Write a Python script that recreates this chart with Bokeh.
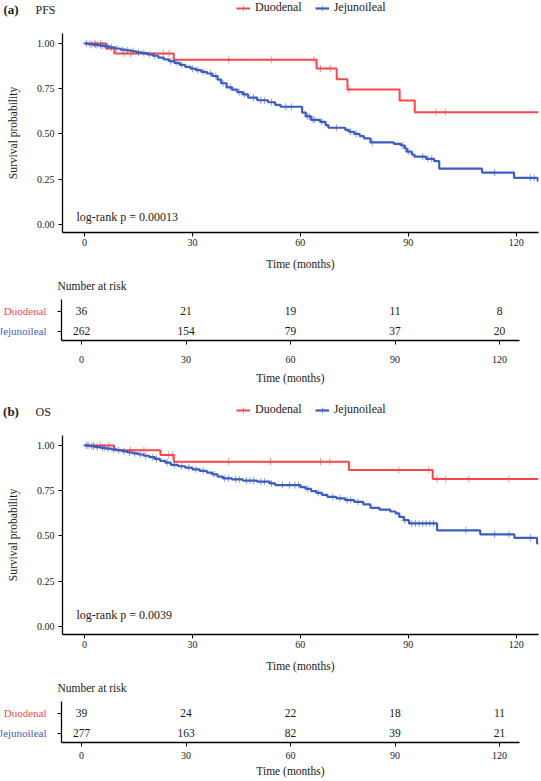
import numpy as np
from bokeh.plotting import figure
from bokeh.models import Range1d, FixedTicker, Label, Legend, LegendItem
from bokeh.layouts import column, row
from bokeh.embed import file_html
from bokeh.resources import INLINE
from bokeh.core.properties import value

FONT = "Liberation Serif"
RED = "#F8474C"
BLUE = "#3D5EBE"
INK = "#1a1a1a"
W = 541

groups = ["Duodenal", "Jejunoileal"]
group_colors = [RED, BLUE]
group_widths = [2, 2.2]
x_ticks = [0, 30, 60, 90, 120]
x_tick_labels = ["0", "30", "60", "90", "120"]
y_ticks = [0, 0.25, 0.5, 0.75, 1.0]
y_tick_labels = ["0.00", "0.25", "0.50", "0.75", "1.00"]
followup_end = 126.2

# ---------------- (a) PFS ----------------
pfs_duo_t = [6.0, 8.3, 24.8, 64.5, 70.1, 73.1, 87.6, 91.8]
pfs_duo_s = [0.972, 0.944, 0.910, 0.862, 0.802, 0.745, 0.684, 0.620]
pfs_duo_cens = [2.8, 4.5, 11.0, 12.8, 21.9, 23.5, 40.1, 51.9, 63.8, 65.6, 68.3, 73.5, 97.7, 100.3]

pfs_jej_t = [1, 2.5, 4, 5.5, 7, 8.5, 10, 11.5, 13, 14.5, 16, 17.5, 19, 20.5, 22, 23.5, 25, 26.5, 28, 29.5,
             31, 32.5, 34, 35.5, 37, 38, 39.5, 41, 42.5, 44, 45.5, 48, 51, 53, 54.5, 60.5, 61.5, 63, 65.5, 67,
             67.8, 72.5, 73.5, 75, 76.5, 77.7, 79.5, 86, 88, 89, 89.6, 91, 91.7, 95, 97.2, 98.6, 110.5, 119.4, 126.0]
pfs_jej_s = [0.996, 0.992, 0.988, 0.984, 0.978, 0.972, 0.966, 0.962, 0.957, 0.951, 0.946, 0.940, 0.932, 0.922,
             0.912, 0.902, 0.893, 0.882, 0.871, 0.861, 0.852, 0.843, 0.834, 0.820, 0.800, 0.780, 0.757, 0.745,
             0.731, 0.718, 0.700, 0.686, 0.675, 0.661, 0.650, 0.618, 0.597, 0.578, 0.567, 0.548, 0.534, 0.522,
             0.512, 0.500, 0.488, 0.475, 0.453, 0.445, 0.436, 0.420, 0.402, 0.386, 0.374, 0.362, 0.350, 0.308,
             0.286, 0.257, 0.240]
pfs_jej_cens = [0.5, 1.5, 2, 3, 3.5, 4.5, 5, 6, 6.5, 7.5, 9, 10.5, 12, 13.5, 15, 16.5, 18, 19.5, 24, 25.5, 27,
                30, 31.5, 33, 35, 36.5, 38.5, 40.5, 43, 44.5, 47, 49, 50, 52, 56, 57.5, 62, 62.5, 63.5, 64, 66,
                70, 74, 75.5, 80, 88.5, 90, 94, 95.5, 96.5, 114, 124, 125]
pfs_pval = "log-rank p = 0.00013"
pfs_risk_duo = [36, 21, 19, 11, 8]
pfs_risk_jej = [262, 154, 79, 37, 20]

# ---------------- (b) OS ----------------
os_duo_t = [8.2, 21.1, 24.8, 73.5, 96.8]
os_duo_s = [0.974, 0.947, 0.910, 0.864, 0.814]
os_duo_cens = [2.6, 4.4, 6.8, 12.8, 16.5, 23.4, 24.5, 40.1, 51.7, 65.6, 68.2, 87.4, 95.7, 98.0, 100.4, 106.8, 118.0]

os_jej_t = [1.5, 3, 4.5, 6, 7.5, 9, 10.5, 12, 13.5, 15, 16.5, 18, 19.5, 21, 22.5, 24, 26, 28, 30, 32,
            34, 35.5, 37, 38.5, 41, 44, 48, 51.5, 53, 60, 61.5, 63, 64.5, 66, 67.5, 70, 72.5, 75, 77.5, 79.5,
            82, 85, 86.5, 87.5, 88.8, 90.2, 98, 110, 119.5, 125.8]
os_jej_s = [0.996, 0.991, 0.987, 0.982, 0.978, 0.974, 0.967, 0.961, 0.956, 0.950, 0.943, 0.935, 0.926, 0.915,
            0.905, 0.893, 0.885, 0.877, 0.868, 0.860, 0.850, 0.840, 0.828, 0.818, 0.812, 0.806, 0.800, 0.790,
            0.781, 0.770, 0.760, 0.748, 0.738, 0.727, 0.716, 0.708, 0.698, 0.688, 0.674, 0.655, 0.645, 0.635,
            0.624, 0.605, 0.587, 0.569, 0.531, 0.509, 0.489, 0.458]
os_jej_cens = [0.5, 1, 2, 2.5, 3.5, 5, 5.5, 6.5, 8, 9.5, 11, 12.5, 14, 15.5, 17, 19, 20, 23, 25, 27, 29, 31, 33,
               36, 39, 40, 42, 43, 45, 46, 47, 49, 50, 52, 55, 57, 58.5, 59.5, 62, 65, 69, 71, 73, 74, 76, 89,
               91, 92, 93, 94, 95, 96, 97, 106, 114, 118, 124]
os_pval = "log-rank p = 0.0039"
os_risk_duo = [39, 24, 22, 18, 11]
os_risk_jej = [277, 163, 82, 39, 21]


def km_xy(t, s):
    return [0.0] + list(t) + [followup_end], [1.0] + list(s) + [s[-1]]


def cens_y(t, s, c):
    t = np.asarray(t, dtype=float)
    s = np.asarray(s, dtype=float)
    idx = np.searchsorted(t, np.asarray(c, dtype=float), side="right") - 1
    return np.where(idx >= 0, s[np.clip(idx, 0, None)], 1.0)


def draw_km(p, duo, jej, **kw):
    out = []
    for (t, s, c), col, lw in zip([duo, jej], group_colors, group_widths):
        xs, ys = km_xy(t, s)
        r1 = p.step(xs, ys, mode="after", line_color=col, line_width=lw, **kw)
        r2 = p.scatter(c, cens_y(t, s, c), marker="cross", size=7, line_color=col,
                       line_alpha=0.6, line_width=1, **kw)
        out.append([r1, r2])
    return out


def bare_fig(w, h, x_range, y_range, bottom=0):
    p = figure(width=w, height=h, output_backend="svg", toolbar_location=None,
               x_range=x_range, y_range=y_range, x_axis_type=None, y_axis_type=None,
               min_border_left=0, min_border_right=0, min_border_top=0, min_border_bottom=bottom)
    p.outline_line_color = None
    p.xgrid.visible = False
    p.ygrid.visible = False
    return p


def style_axis(ax, size="10px"):
    ax.axis_line_color = "black"
    ax.axis_line_width = 1.3
    ax.major_tick_line_color = "black"
    ax.major_tick_line_width = 1
    ax.major_tick_in = 0
    ax.major_tick_out = 4
    ax.minor_tick_line_color = None
    ax.major_label_text_font = FONT
    ax.major_label_text_font_size = size
    ax.major_label_text_color = INK
    ax.axis_label_text_font = FONT
    ax.axis_label_text_font_size = "11.5px"
    ax.axis_label_text_font_style = "normal"
    ax.axis_label_text_color = INK


def header_fig(tag, name, duo, jej):
    h = 20
    p = bare_fig(W, h, Range1d(0, W), Range1d(h, 0))
    # the curves are drawn on a range that lies off this strip; they only feed the legend swatches
    p.extra_y_ranges = {"off": Range1d(5, 6)}
    rends = draw_km(p, duo, jej, y_range_name="off")
    p.add_layout(Label(x=10.5, y=9, text=tag, text_font=FONT, text_font_size="13px",
                       text_font_style="bold", text_align="center", text_baseline="middle",
                       text_color=INK))
    p.add_layout(Label(x=35, y=9, text=name, text_font=FONT, text_font_size="12px",
                       text_align="left", text_baseline="middle", text_color=INK))
    items = [LegendItem(label=g, renderers=r) for g, r in zip(groups, rends)]
    legend = Legend(items=items, orientation="horizontal", location=(236, 5), padding=0, margin=0,
                    spacing=13, glyph_width=14, glyph_height=14, label_standoff=5, label_height=14,
                    label_text_font=FONT, label_text_font_size="12px", label_text_color=INK,
                    border_line_color=None, background_fill_alpha=0)
    p.add_layout(legend)
    return row(p, spacing=0)


def main_fig(duo, jej, pval, pval_y):
    p = figure(width=W, height=260, output_backend="svg", toolbar_location=None,
               x_range=Range1d(-6.12, 126.2), y_range=Range1d(-0.045, 1.055),
               min_border_left=62, min_border_right=3, min_border_top=13, min_border_bottom=48)
    p.outline_line_color = None
    p.xgrid.visible = False
    p.ygrid.visible = False
    draw_km(p, duo, jej)

    p.xaxis.ticker = FixedTicker(ticks=x_ticks)
    p.xaxis.major_label_overrides = dict(zip(x_ticks, x_tick_labels))
    p.yaxis.ticker = FixedTicker(ticks=y_ticks)
    p.yaxis.major_label_overrides = dict(zip(y_ticks, y_tick_labels))
    p.xaxis.axis_label = "Time (months)"
    p.yaxis.axis_label = "Survival probability"
    style_axis(p.xaxis[0])
    style_axis(p.yaxis[0])
    p.xaxis.major_label_standoff = 2
    p.xaxis.axis_label_standoff = 9
    p.yaxis.major_label_standoff = 4
    p.yaxis.axis_label_standoff = 15

    p.add_layout(Label(x=-2.23, y=pval_y, text=pval, text_font=FONT, text_font_size="12px",
                       text_align="left", text_baseline="middle", text_color=INK))
    return p


def table_block(h, bottom, tick_standoff, title_standoff, duo_n, jej_n):
    yr = (0.535, 2.585)
    row_y = [2, 1]
    head = bare_fig(W, 19, Range1d(0, W), Range1d(19, 0))
    head.add_layout(Label(x=57, y=5, text="Number at risk", text_font=FONT,
                          text_font_size="11.5px", text_align="left", text_baseline="middle",
                          text_color=INK))

    lab = bare_fig(57, h, Range1d(0, 57), Range1d(*yr), bottom=bottom)
    lab.text(x=[46, 46], y=row_y, text=groups, text_color=group_colors,
             text_font=value(FONT), text_font_size="11px", text_align="right",
             text_baseline="middle")

    p = figure(width=W - 57, height=h, output_backend="svg", toolbar_location=None,
               x_range=Range1d(-5.742, 125.74), y_range=Range1d(*yr),
               min_border_left=4, min_border_right=22, min_border_top=0, min_border_bottom=bottom)
    p.outline_line_color = None
    p.xgrid.visible = False
    p.ygrid.visible = False
    for n, yy in zip([duo_n, jej_n], row_y):
        p.text(x=x_ticks, y=[yy] * len(x_ticks), text=[str(v) for v in n],
               text_font=value(FONT), text_font_size="11.5px", text_align="center",
               text_baseline="middle", text_color=INK)
    p.xaxis.ticker = FixedTicker(ticks=x_ticks)
    p.xaxis.major_label_overrides = dict(zip(x_ticks, x_tick_labels))
    p.yaxis.ticker = FixedTicker(ticks=row_y)
    p.yaxis.major_label_overrides = {2: "", 1: ""}
    p.xaxis.axis_label = "Time (months)"
    style_axis(p.xaxis[0])
    style_axis(p.yaxis[0])
    p.yaxis.major_label_text_font_size = "0px"
    p.xaxis.major_label_standoff = tick_standoff
    p.xaxis.axis_label_standoff = title_standoff
    p.yaxis.major_label_standoff = 0
    return column(head, row(lab, p, spacing=0), spacing=0)


pfs_duo = (pfs_duo_t, pfs_duo_s, pfs_duo_cens)
pfs_jej = (pfs_jej_t, pfs_jej_s, pfs_jej_cens)
os_duo = (os_duo_t, os_duo_s, os_duo_cens)
os_jej = (os_jej_t, os_jej_s, os_jej_cens)

block_a = column(
    header_fig("(a)", "PFS", pfs_duo, pfs_jej),
    main_fig(pfs_duo, pfs_jej, pfs_pval, 0.0395),
    table_block(103, 62, 11, 6, pfs_risk_duo, pfs_risk_jej),
    spacing=0)
block_b = column(
    header_fig("(b)", "OS", os_duo, os_jej),
    main_fig(os_duo, os_jej, os_pval, 0.0655),
    table_block(80, 39, 5, 3, os_risk_duo, os_risk_jej),
    spacing=0)

layout = column(block_a, block_b, spacing=0)

with open("out.html", "w") as f:
    f.write(file_html(layout, INLINE))
